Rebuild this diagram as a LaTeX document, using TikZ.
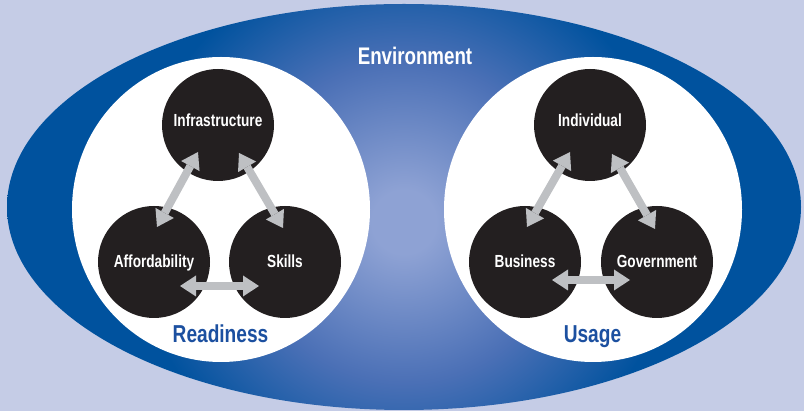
\documentclass[tikz,border=0pt]{standalone}
\usepackage{fontspec}
\setmainfont{Liberation Sans}
\newfontfamily\condf[FakeStretch=0.78]{Liberation Sans}
\usetikzlibrary{arrows.meta,calc,shapes.geometric}
\definecolor{bgc}{RGB}{197,204,230}
\definecolor{envC}{RGB}{142,162,212}
\definecolor{envM}{RGB}{75,112,182}
\definecolor{envE}{RGB}{0,82,158}
\definecolor{blk}{RGB}{35,31,32}
\definecolor{arrg}{RGB}{190,192,195}
\definecolor{txtblue}{RGB}{28,80,160}
\pgfdeclareradialshading{envshade}{\pgfpoint{0bp}{0bp}}{color(0bp)=(envC); color(2bp)=(envC); color(10bp)=(envM); color(17bp)=(envE); color(50bp)=(envE)}
\begin{document}
\begin{tikzpicture}[x=1pt,y=-1pt,
  whitereg/.style={ellipse, fill=white, inner sep=0pt, minimum width=298pt, minimum height=305pt},
  bcirc/.style={circle, fill=blk, inner sep=0pt, minimum size=112pt},
  lbl/.style={text=white, font=\condf\bfseries\fontsize{17.5}{20}\selectfont, inner sep=0pt, anchor=base},
  bigtxt/.style={font=\condf\bfseries\fontsize{24.5}{28}\selectfont, inner sep=0pt, anchor=base},
  dblarrow/.style={draw=arrg, line width=8pt,
    {Triangle[width=21pt,length=16pt,line width=0pt]}-{Triangle[width=21pt,length=16pt,line width=0pt]}}
]
\useasboundingbox (0,0) rectangle (804,411);
\fill[bgc] (0,0) rectangle (804,411);
% environment ellipse
\begin{scope}
  \clip (404,207) ellipse [x radius=397pt, y radius=203pt];
  \shade[shading=envshade] (4,-178) rectangle (804,622);
\end{scope}
\node[bigtxt, text=white, font=\condf\bfseries\fontsize{24}{28}\selectfont] (env) at (415,65) {Environment};
% white regions
\node[whitereg] (readyE) at (221,209.5) {};
\node[whitereg] (usageE) at (593,209.5) {};
% readiness circles
\node[bcirc] (infra) at (218,125) {};
\node[bcirc] (afford) at (154,262) {};
\node[bcirc] (skills) at (285,262) {};
\node[lbl] (infraL) at ($(infra)+(0,2)$) {Infrastructure};
\node[lbl] (affordL) at ($(afford)+(0,6)$) {Affordability};
\node[lbl] (skillsL) at ($(skills)+(0,6)$) {Skills};
% usage circles
\node[bcirc] (indiv) at (590,125) {};
\node[bcirc] (busi) at (525,262) {};
\node[bcirc] (govt) at (657,262) {};
\node[lbl] (indivL) at ($(indiv)+(0,2)$) {Individual};
\node[lbl] (busiL) at ($(busi)+(0,6)$) {Business};
\node[lbl] (govtL) at ($(govt)+(0,6)$) {Government};
% arrows
\draw[dblarrow] ($(infra)+(-20,27)$) -- ($(afford)+(3,-35)$);
\draw[dblarrow] ($(infra)+(21,28)$) -- ($(skills)+(-2,-34)$);
\draw[dblarrow] ($(afford)+(26,24)$) -- ($(skills)+(-26,24)$);
\draw[dblarrow] ($(indiv)+(-20,27)$) -- ($(busi)+(2,-35)$);
\draw[dblarrow] ($(indiv)+(22,29)$) -- ($(govt)+(-2,-33)$);
\draw[dblarrow] ($(busi)+(27,18)$) -- ($(govt)+(-27,18)$);
% captions
\node[bigtxt, text=txtblue] (readyT) at (220.5,343) {Readiness};
\node[bigtxt, text=txtblue] (usageT) at (592.5,343) {Usage};
\end{tikzpicture}
\end{document}
